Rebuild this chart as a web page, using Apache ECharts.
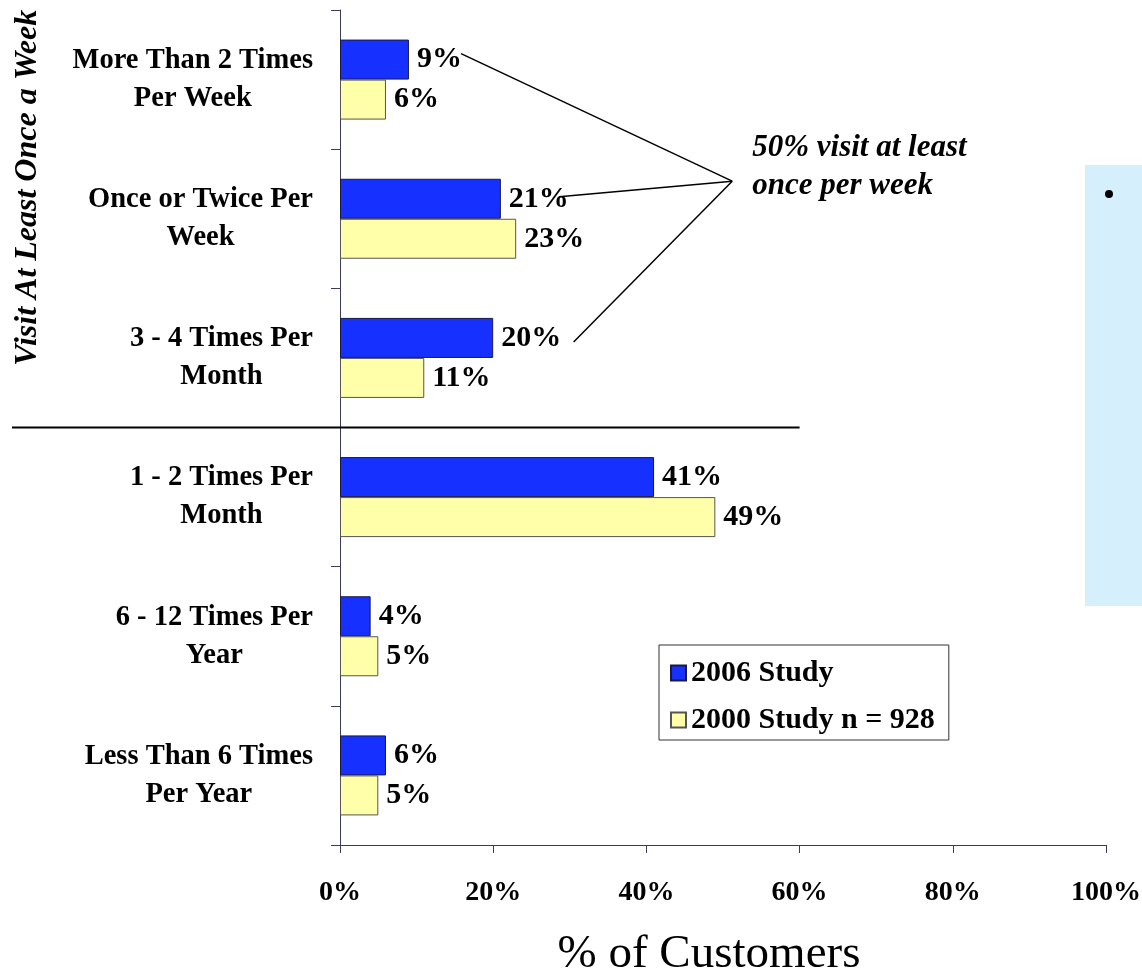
<!DOCTYPE html>
<html>
<head>
<meta charset="utf-8">
<script src="https://cdn.jsdelivr.net/npm/echarts@6/dist/echarts.min.js"></script>
<style>
  html, body { margin: 0; padding: 0; background: #ffffff; }
  #chart { width: 1142px; height: 977px; }
</style>
</head>
<body>
<div id="chart"></div>
<script>
// Visit frequency, two survey waves (percent of customers)
const categories = [
  'More Than 2 Times\nPer Week',
  'Once or Twice Per\nWeek',
  '3 - 4 Times Per\nMonth',
  '1 - 2 Times Per\nMonth',
  '6 - 12 Times Per\nYear',
  'Less Than 6 Times\nPer Year'
];
const study2006 = [9, 21, 20, 41, 4, 6];
const study2000 = [6, 23, 11, 49, 5, 5];
const xTicks = [0, 20, 40, 60, 80, 100];
const seriesNames = ['2006 Study', '2000 Study n = 928'];
const weeklyNote = ['50% visit at least', 'once per week'];
const groupTitle = 'Visit At Least Once a Week';
const axisTitle = '% of Customers';

const SERIF = '"Liberation Serif", "Times New Roman", serif';
const AXIS_COLOR = '#3a3d55';

const chart = echarts.init(document.getElementById('chart'), null, { renderer: 'canvas' });

const labelStyle = {
  show: true,
  position: 'right',
  distance: 8,
  formatter: '{c}%',
  color: '#000',
  fontFamily: SERIF,
  fontWeight: 'bold',
  fontSize: 30
};

chart.setOption({
  animation: false,
  backgroundColor: '#ffffff',
  grid: { left: 340, right: 36, top: 10, bottom: 132, containLabel: false, outerBoundsMode: 'none' },
  legend: {
    data: seriesNames,
    orient: 'vertical',
    left: 659,
    top: 645,
    padding: [13, 14, 5, 11],
    itemGap: 17,
    itemWidth: 15,
    itemHeight: 15,
    backgroundColor: '#ffffff',
    borderColor: '#333333',
    borderWidth: 1,
    borderRadius: 0,
    icon: 'rect',
    textStyle: { fontFamily: SERIF, fontWeight: 'bold', fontSize: 30, color: '#000' }
  },
  xAxis: {
    type: 'value',
    min: xTicks[0],
    max: xTicks[xTicks.length - 1],
    interval: xTicks[1] - xTicks[0],
    name: axisTitle,
    nameLocation: 'middle',
    nameGap: 86,
    nameTextStyle: { fontFamily: SERIF, fontSize: 47, color: '#000', padding: [0, 28, 0, 0] },
    axisLine: { show: true, lineStyle: { color: AXIS_COLOR, width: 1 } },
    axisTick: { show: true, length: 8, lineStyle: { color: AXIS_COLOR } },
    splitLine: { show: false },
    axisLabel: {
      margin: 34,
      formatter: '{value}%',
      fontFamily: SERIF, fontWeight: 'bold', fontSize: 28, color: '#000'
    }
  },
  yAxis: {
    type: 'category',
    inverse: true,
    data: categories,
    axisLine: { show: true, lineStyle: { color: AXIS_COLOR, width: 1 } },
    axisTick: { show: true, length: 9, lineStyle: { color: AXIS_COLOR } },
    axisLabel: {
      margin: 27,
      formatter: function (v) {
        return v.split('\n').map(function (s) { return '{c|' + s + '}'; }).join('\n');
      },
      rich: {
        c: {
          fontFamily: SERIF, fontWeight: 'bold', fontSize: 28.5,
          lineHeight: 38, align: 'center', color: '#000'
        }
      }
    }
  },
  series: [
    {
      name: seriesNames[0],
      type: 'bar',
      data: study2006,
      barWidth: 40,
      barGap: '0%',
      itemStyle: { color: '#1530ff', borderColor: '#1a1a40', borderWidth: 1 },
      label: labelStyle
    },
    {
      name: seriesNames[1],
      type: 'bar',
      data: study2000,
      barWidth: 40,
      barGap: '0%',
      itemStyle: { color: '#ffffaa', borderColor: '#555555', borderWidth: 1 },
      label: labelStyle
    }
  ]
});

// Decorations placed from the axes' own pixel mapping
function px(xVal, catPos) {
  // catPos may be fractional: interpolate between category centres
  const i0 = Math.floor(catPos);
  const f = catPos - i0;
  const a = chart.convertToPixel({ gridIndex: 0 }, [xVal, i0]);
  if (f === 0) return a;
  const b = chart.convertToPixel({ gridIndex: 0 }, [xVal, i0 + 1]);
  return [a[0], a[1] + (b[1] - a[1]) * f];
}

const band = px(0, 1)[1] - px(0, 0)[1];
const sepY = px(0, 2.5)[1];
const sepLeft = 12;
const sepRight = px(60, 0)[0];

// callout meeting point and the three label ends it links
const hub = px(51.2, 0.73);
const ends = [
  [px(15.8, 0)[0], px(0, 0)[1] - 26],
  [px(28.6, 1)[0], px(0, 1)[1] - 22],
  [px(30.5, 2)[0], px(0, 2)[1] - 16]
];

const graphics = [
  {
    type: 'line', z: 50,
    shape: { x1: sepLeft, y1: sepY, x2: sepRight, y2: sepY },
    style: { stroke: '#000', lineWidth: 2 }
  },
  {
    type: 'text', z: 50,
    x: 28, y: (px(0, 0)[1] - band / 2 + sepY) / 2 - 31,
    rotation: Math.PI / 2,
    style: {
      text: groupTitle,
      fontFamily: SERIF, fontStyle: 'italic', fontWeight: 'bold', fontSize: 32,
      fill: '#000', align: 'center', verticalAlign: 'middle'
    }
  },
  {
    type: 'text', z: 50,
    x: hub[0] + 20, y: hub[1] - 14,
    style: {
      text: weeklyNote.join('\n'),
      fontFamily: SERIF, fontStyle: 'italic', fontWeight: 'bold', fontSize: 31,
      lineHeight: 38, fill: '#000', align: 'left', verticalAlign: 'middle'
    }
  },
  // slide side panel
  {
    type: 'rect', z: 1,
    shape: { x: 1085, y: 165, width: 57, height: 441 },
    style: { fill: '#d5effd' }
  },
  {
    type: 'circle', z: 2,
    shape: { cx: 1109, cy: 194, r: 4 },
    style: { fill: '#000' }
  }
];
ends.forEach(function (e) {
  graphics.push({
    type: 'line', z: 50,
    shape: { x1: hub[0], y1: hub[1], x2: e[0], y2: e[1] },
    style: { stroke: '#000', lineWidth: 1.5 }
  });
});

chart.setOption({ graphic: graphics });
</script>
</body>
</html>
